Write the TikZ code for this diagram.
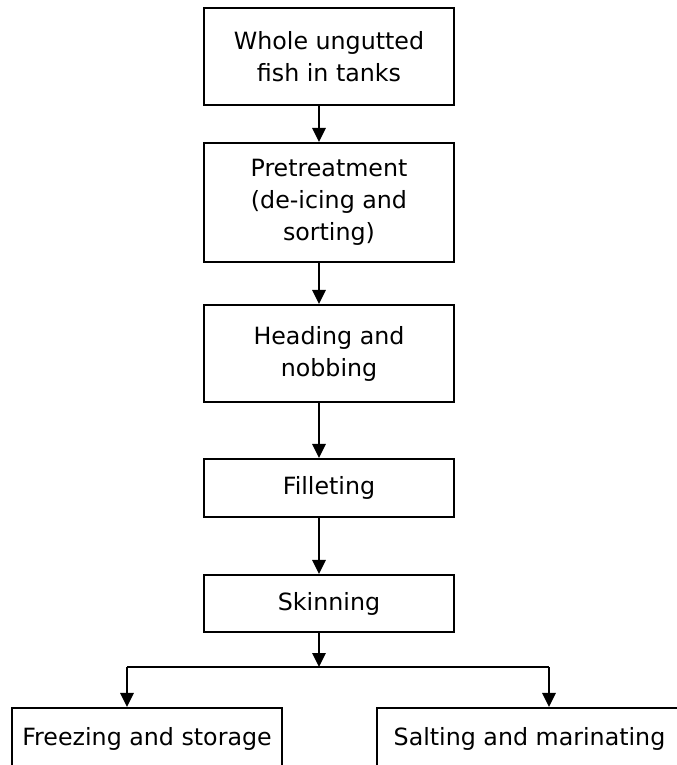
\documentclass[tikz,border=0pt]{standalone}
\usepackage{fontspec}
\setmainfont{DejaVu Sans}
\usetikzlibrary{arrows.meta, positioning}
\tikzset{
  every picture/.style={line width=1.6pt},
  stage/.style={draw=black, align=center, inner sep=2pt, minimum width=187.5pt, font=\fontsize{17.8}{24}\selectfont},
  arrow/.style={-{Triangle[length=10.5pt, width=10pt]}, draw=black, line width=1.6pt},
}
\begin{document}
\begin{tikzpicture}[x=0.75pt, y=-0.75pt]
  \useasboundingbox (0,0) rectangle (677,765);
  % main column
  \node[stage, minimum height=72.75pt] (whole) at (329,56.5) {Whole ungutted\\fish in tanks};
  \node[stage, minimum height=89.25pt] (pre) at (329,202.5) {Pretreatment\\(de-icing and\\sorting)};
  \node[stage, minimum height=72.75pt] (head) at (329,353.5) {Heading and\\nobbing};
  \node[stage, minimum height=43.5pt] (fillet) at (329,488) {Filleting};
  \node[stage, minimum height=42.75pt] (skin) at (329,603.5) {Skinning};
  % end products
  \node[stage, minimum width=202.5pt, minimum height=46.5pt] (freeze) at (147,739) {Freezing and storage};
  \node[stage, minimum width=228.75pt, minimum height=46.5pt] (salt) at (529.5,739) {Salting and marinating};
  \draw[arrow] ([xshift=-7.5pt]whole.south) -- ([xshift=-7.5pt]pre.north);
  \draw[arrow] ([xshift=-7.5pt]pre.south) -- ([xshift=-7.5pt]head.north);
  \draw[arrow] ([xshift=-7.5pt]head.south) -- ([xshift=-7.5pt]fillet.north);
  \draw[arrow] ([xshift=-7.5pt]fillet.south) -- ([xshift=-7.5pt]skin.north);
  % branch
  \coordinate (split) at (319,667);
  \coordinate (left) at (127,667);
  \coordinate (right) at (549,667);
  \draw[arrow] ([xshift=-7.5pt]skin.south) -- (split);
  \draw (left) -- (right);
  \draw[arrow] (left) -- (left |- freeze.north);
  \draw[arrow] (right) -- (right |- salt.north);
\end{tikzpicture}
\end{document}
